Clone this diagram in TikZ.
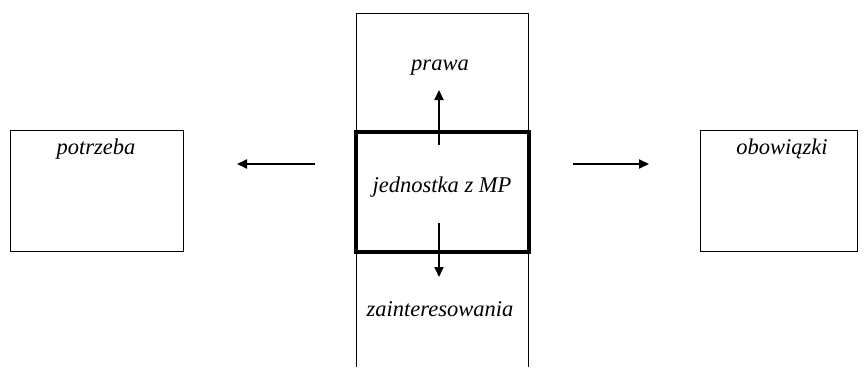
\documentclass[tikz,border=0pt]{standalone}
\usepackage{fontspec}
\setmainfont{Liberation Serif}
\usetikzlibrary{arrows.meta}
\begin{document}
\begin{tikzpicture}[x=1pt,y=-1pt,
  lbl/.style={font=\fontsize{22.5}{26}\selectfont\itshape, inner sep=0pt, anchor=center},
  thinbox/.style={draw, line width=1pt, inner sep=0pt},
  arr/.style={-{Triangle[length=10pt,width=9pt]}, line width=1.8pt}]
\useasboundingbox (0,0) rectangle (865,367);
% column
\draw[line width=1pt] (356,367) -- (356,13) -- (528,13) -- (528,367);
% side boxes
\node[thinbox, minimum width=173pt, minimum height=121pt] (left) at (96.5,190.5) {};
\node[thinbox, minimum width=157pt, minimum height=121pt] (right) at (778.5,190.5) {};
% center thick box
\node[draw, line width=3.5pt, inner sep=0pt, minimum width=173pt, minimum height=120pt] (center) at (442.5,192) {};
% labels
\node[lbl] (tpotrz) at (96,149) {potrzeba};
\node[lbl] (tobow) at (782,149) {obowiązki};
\node[lbl] (tjedn) at (442,187) {jednostka z MP};
\node[lbl] (tpraw) at (440,68) {prawa};
\node[lbl] (tzain) at (440,309) {zainteresowania};
% arrow coordinates
\coordinate (la1) at (315,164);
\coordinate (la2) at (237,164);
\coordinate (ra1) at (573,164);
\coordinate (ra2) at (649,164);
\coordinate (ua1) at (439,145);
\coordinate (ua2) at (439,90);
\coordinate (da1) at (439,223);
\coordinate (da2) at (439,277);
\draw[arr] (la1) -- (la2);
\draw[arr] (ra1) -- (ra2);
\draw[arr] (ua1) -- (ua2);
\draw[arr] (da1) -- (da2);
\end{tikzpicture}
\end{document}
